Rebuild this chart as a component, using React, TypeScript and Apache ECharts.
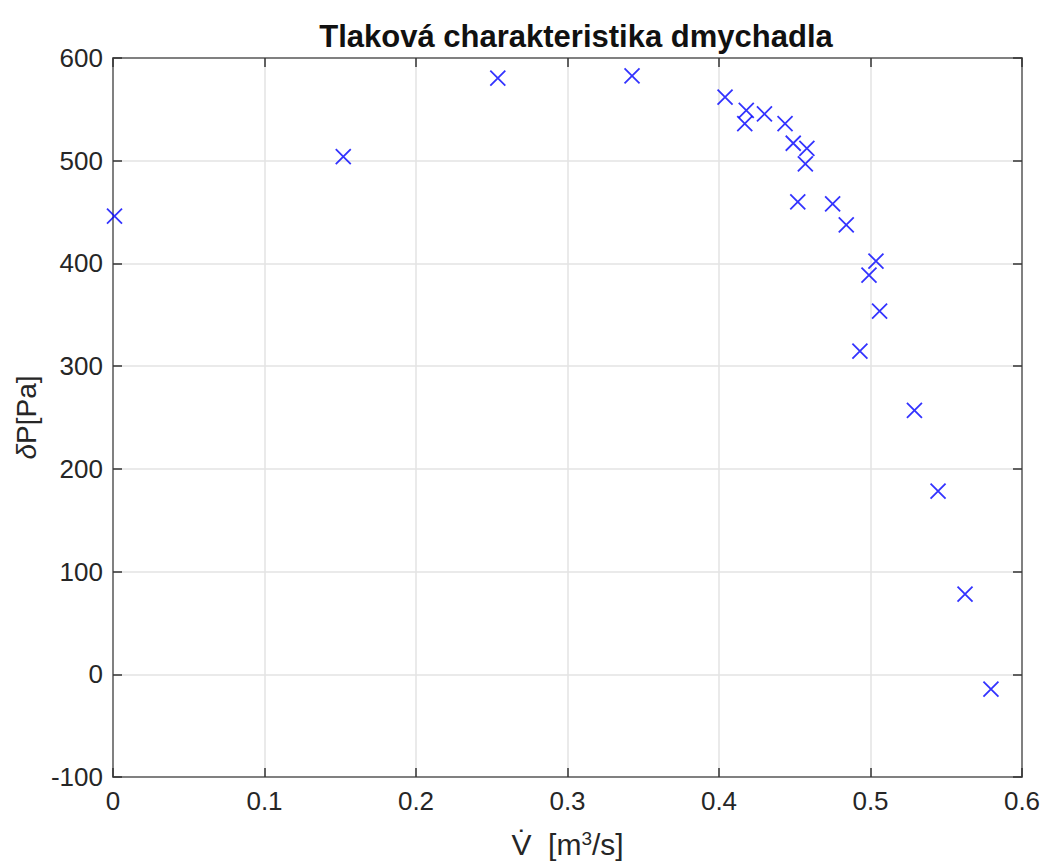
import React, { useEffect, useRef } from "react";
import * as echarts from "echarts";

const flowRates = [0.001, 0.152, 0.254, 0.3426, 0.404, 0.418, 0.417, 0.430, 0.4436, 0.449, 0.458, 0.457, 0.452, 0.475, 0.484, 0.5036, 0.499, 0.506, 0.493, 0.529, 0.5446, 0.5624, 0.5795];
const pressures = [446, 504, 580.5, 582.5, 562, 549, 536, 545.5, 536, 517, 512, 497, 460, 458, 437.5, 402.3, 388.7, 353.6, 314.7, 257, 178.4, 78, -14.4];

const xTicks = [0, 0.1, 0.2, 0.3, 0.4, 0.5, 0.6];
const yTicks = [-100, 0, 100, 200, 300, 400, 500, 600];

const FONT = "'Liberation Sans', Arial, Helvetica, sans-serif";
const FRAME = "#808080";
const GRIDC = "#e3e3e3";
const TXT = "#262626";

export default function App() {
  const ref = useRef<HTMLDivElement>(null);
  useEffect(() => {
    if (!ref.current) return;
    document.body.style.margin = "0";
    const chart = echarts.init(ref.current, null, { renderer: "svg" });
    const axisCommon = {
      axisLine: { show: true, onZero: false, lineStyle: { color: FRAME, width: 2 } },
      axisTick: { show: true, inside: true, length: 9, lineStyle: { color: "#333", width: 1.5 } },
    };
    chart.setOption({
      animation: false,
      backgroundColor: "#fff",
      title: {
        text: "Tlaková charakteristika dmychadla",
        left: 571,
        top: 16,
        textAlign: "center",
        textStyle: { fontFamily: FONT, fontSize: 31, fontWeight: "bold", color: "#111" },
      },
      grid: { left: 113, top: 58, width: 909, height: 719, containLabel: false, outerBoundsMode: "none" },
      xAxis: [
        {
          type: "value",
          min: xTicks[0],
          max: xTicks[xTicks.length - 1],
          interval: 0.1,
          position: "bottom",
          ...axisCommon,
          axisLabel: { fontFamily: FONT, fontSize: 26, color: TXT, margin: 11, formatter: (v: number) => String(+v.toFixed(1)) },
          splitLine: { show: true, lineStyle: { color: GRIDC, width: 1.5 } },
          name: "{n|V̇  [m}{s|3}{n|/s]}",
          nameLocation: "middle",
          nameGap: 52,
          nameTextStyle: {
            rich: {
              n: { fontFamily: FONT, fontSize: 30, color: TXT },
              s: { fontFamily: FONT, fontSize: 19, color: TXT, verticalAlign: "top", padding: [0, 0, 12, 0] },
            },
          },
        },
        {
          type: "value",
          min: xTicks[0],
          max: xTicks[xTicks.length - 1],
          interval: 0.1,
          position: "top",
          ...axisCommon,
          axisLabel: { show: false },
          splitLine: { show: false },
        },
      ],
      yAxis: [
        {
          type: "value",
          min: yTicks[0],
          max: yTicks[yTicks.length - 1],
          interval: 100,
          position: "left",
          ...axisCommon,
          axisLabel: { fontFamily: FONT, fontSize: 26, color: TXT, margin: 10 },
          splitLine: { show: true, lineStyle: { color: GRIDC, width: 1.5 } },
          name: "{d|δ}{n|P[Pa]}",
          nameLocation: "middle",
          nameGap: 72,
          nameRotate: 90,
          nameTextStyle: {
            rich: {
              d: { fontFamily: FONT, fontSize: 28, fontStyle: "italic", color: TXT },
              n: { fontFamily: FONT, fontSize: 28, color: TXT },
            },
          },
        },
        {
          type: "value",
          min: yTicks[0],
          max: yTicks[yTicks.length - 1],
          interval: 100,
          position: "right",
          ...axisCommon,
          axisLabel: { show: false },
          splitLine: { show: false },
        },
      ],
      series: [
        {
          type: "scatter",
          xAxisIndex: 0,
          yAxisIndex: 0,
          data: flowRates.map((x, i) => [x, pressures[i]]),
          symbol: "path://M0,0L10,10M10,0L0,10",
          symbolSize: 15,
          itemStyle: { color: "none", borderColor: "#0000ff", borderWidth: 1.8 },
        },
      ],
    });
    return () => chart.dispose();
  }, []);
  return <div ref={ref} style={{ width: 1046, height: 863 }} />;
}
